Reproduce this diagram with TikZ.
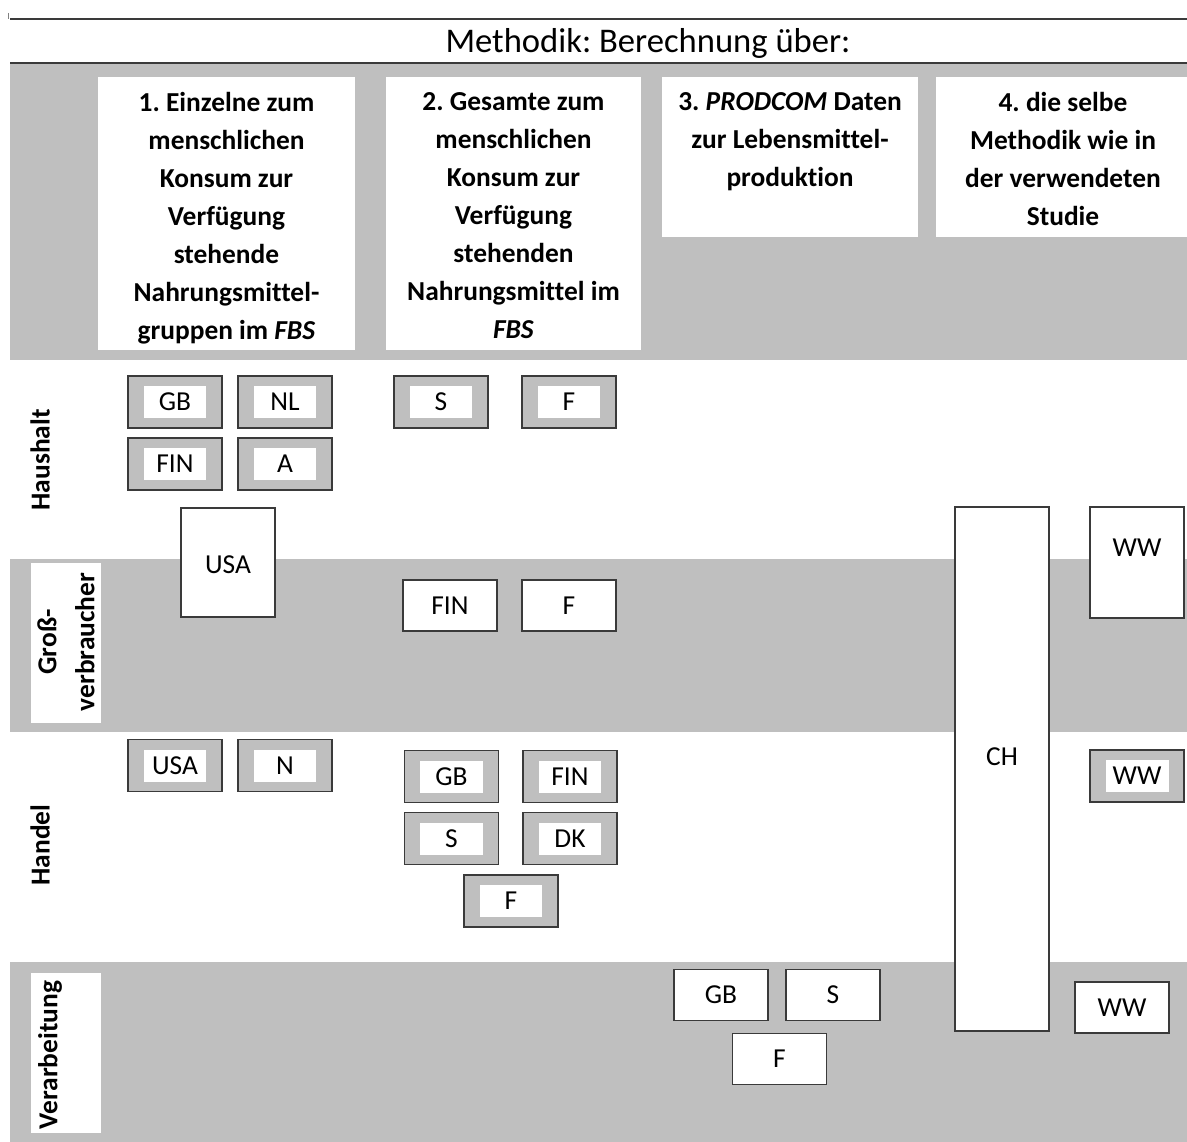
\documentclass[tikz,border=0pt]{standalone}
\usepackage{fontspec}
\setmainfont{Carlito}[Ligatures=NoCommon]
\frenchspacing
\definecolor{bandgray}{HTML}{BFBFBF}
\definecolor{edge}{HTML}{3A3A3A}
\newcommand{\dbox}[4]{%
  \node[outerbox] (#1) at (#2,#3) {};
  \node[innerbox] (#1-t) at (#1.center) {#4};}
\newcommand{\pbox}[4]{%
  \node[plainbox] (#1) at (#2,#3) {#4};}
\begin{document}
\begin{tikzpicture}[x=0.02cm,y=-0.02cm,
  lbl/.style={font=\fontsize{15.6}{21.6}\selectfont, inner sep=0pt},
  capbox/.style={font=\fontsize{15.6}{21.6}\selectfont, text height=10.05pt, text depth=0pt, inner sep=0pt},
  hdr/.style={font=\fontsize{15.6}{21.6}\selectfont\bfseries, align=center, anchor=north, inner sep=0pt},
  rowlbl/.style={font=\fontsize{15.6}{21.6}\selectfont\bfseries, align=center, rotate=90, inner sep=0pt},
  outerbox/.style={draw=edge, line width=1.1pt, fill=bandgray, minimum width=1.88cm, minimum height=1.04cm, inner sep=0pt},
  innerbox/.style={capbox, fill=white, minimum width=1.26cm, minimum height=0.64cm},
  plainbox/.style={capbox, draw=edge, line width=1.1pt, fill=white, minimum width=1.88cm, minimum height=1.02cm},
  tallbox/.style={draw=edge, line width=1.1pt, fill=white, inner sep=0pt}]
\useasboundingbox (0,0) rectangle (1187,1142);
% top rule and title
\draw[line width=0.6pt, edge] (10,19) -- (1187,19);
\draw[line width=0.4pt, gray] (8,13) -- (8,19);
\node[font=\fontsize{19.7}{24}\selectfont, inner sep=0pt] (title) at (648,43) {Methodik: Berechnung über:};
% bands
\fill[bandgray] (10,63) rectangle (1187,360);
\draw[line width=1pt, edge] (10,63) -- (1187,63);
\fill[bandgray] (10,559) rectangle (1187,732);
\fill[bandgray] (10,962) rectangle (1187,1142);
% header boxes
\fill[white] (98,77) rectangle (355,350);
\fill[white] (386,77) rectangle (641,350);
\fill[white] (662,77) rectangle (918,237);
\fill[white] (936,77) rectangle (1187,237);
\node[hdr] (h1) at (226.5,92) {1. Einzelne zum\\menschlichen\\Konsum zur\\Verfügung\\stehende\\Nahrungsmittel-\\gruppen im \textit{FBS}};
\node[hdr] (h2) at (513.5,92) {2. Gesamte zum\\menschlichen\\Konsum zur\\Verfügung\\stehenden\\Nahrungsmittel im\\\textit{FBS}};
\node[hdr] (h3) at (790,92) {3. \textit{PRODCOM} Daten\\zur Lebensmittel-\\produktion};
\node[hdr] (h4) at (1063,92) {4. die selbe\\Methodik wie in\\der verwendeten\\Studie};
% row labels
\fill[white] (31,563) rectangle (101,723);
\fill[white] (31,973) rectangle (101,1133);
\node[rowlbl] (r1) at (40,460) {Haushalt};
\node[rowlbl] (r2) at (66,642) {Groß-\\verbraucher};
\node[rowlbl] (r3) at (40,845) {Handel};
\node[rowlbl] (r4) at (50,1055) {Verarbeitung};
% Haushalt
\dbox{hh-gb}{175}{402}{GB}
\dbox{hh-nl}{285}{402}{NL}
\dbox{hh-fin}{175}{464}{FIN}
\dbox{hh-a}{285}{464}{A}
\dbox{hh-s}{441}{402}{S}
\dbox{hh-f}{569}{402}{F}
\node[tallbox, minimum width=1.88cm, minimum height=2.18cm] (hh-usa) at (228,562.5) {};
\node[capbox] (hh-usa-t) at (228,565) {USA};
% Grossverbraucher
\pbox{gv-fin}{450}{605.5}{FIN}
\pbox{gv-f}{569}{605.5}{F}
% Handel
\dbox{ha-usa}{175}{765.5}{USA}
\dbox{ha-n}{285}{765.5}{N}
\dbox{ha-gb}{451.5}{776.5}{GB}
\dbox{ha-fin}{570}{776.5}{FIN}
\dbox{ha-s}{451.5}{838.5}{S}
\dbox{ha-dk}{570}{838.5}{DK}
\dbox{ha-f}{511}{901}{F}
\dbox{ha-ww}{1137}{776}{WW}
% Verarbeitung
\pbox{vb-gb}{721}{995}{GB}
\pbox{vb-s}{833}{995}{S}
\pbox{vb-f}{779.5}{1059}{F}
\pbox{vb-ww}{1122}{1007.5}{WW}
% spanning boxes
\node[tallbox, minimum width=1.88cm, minimum height=10.48cm] (ch) at (1002,769) {};
\node[capbox] (ch-t) at (1002,757) {CH};
\node[tallbox, minimum width=1.88cm, minimum height=2.22cm] (ww) at (1137,562.5) {};
\node[capbox] (ww-t) at (1137,548) {WW};
\end{tikzpicture}
\end{document}
